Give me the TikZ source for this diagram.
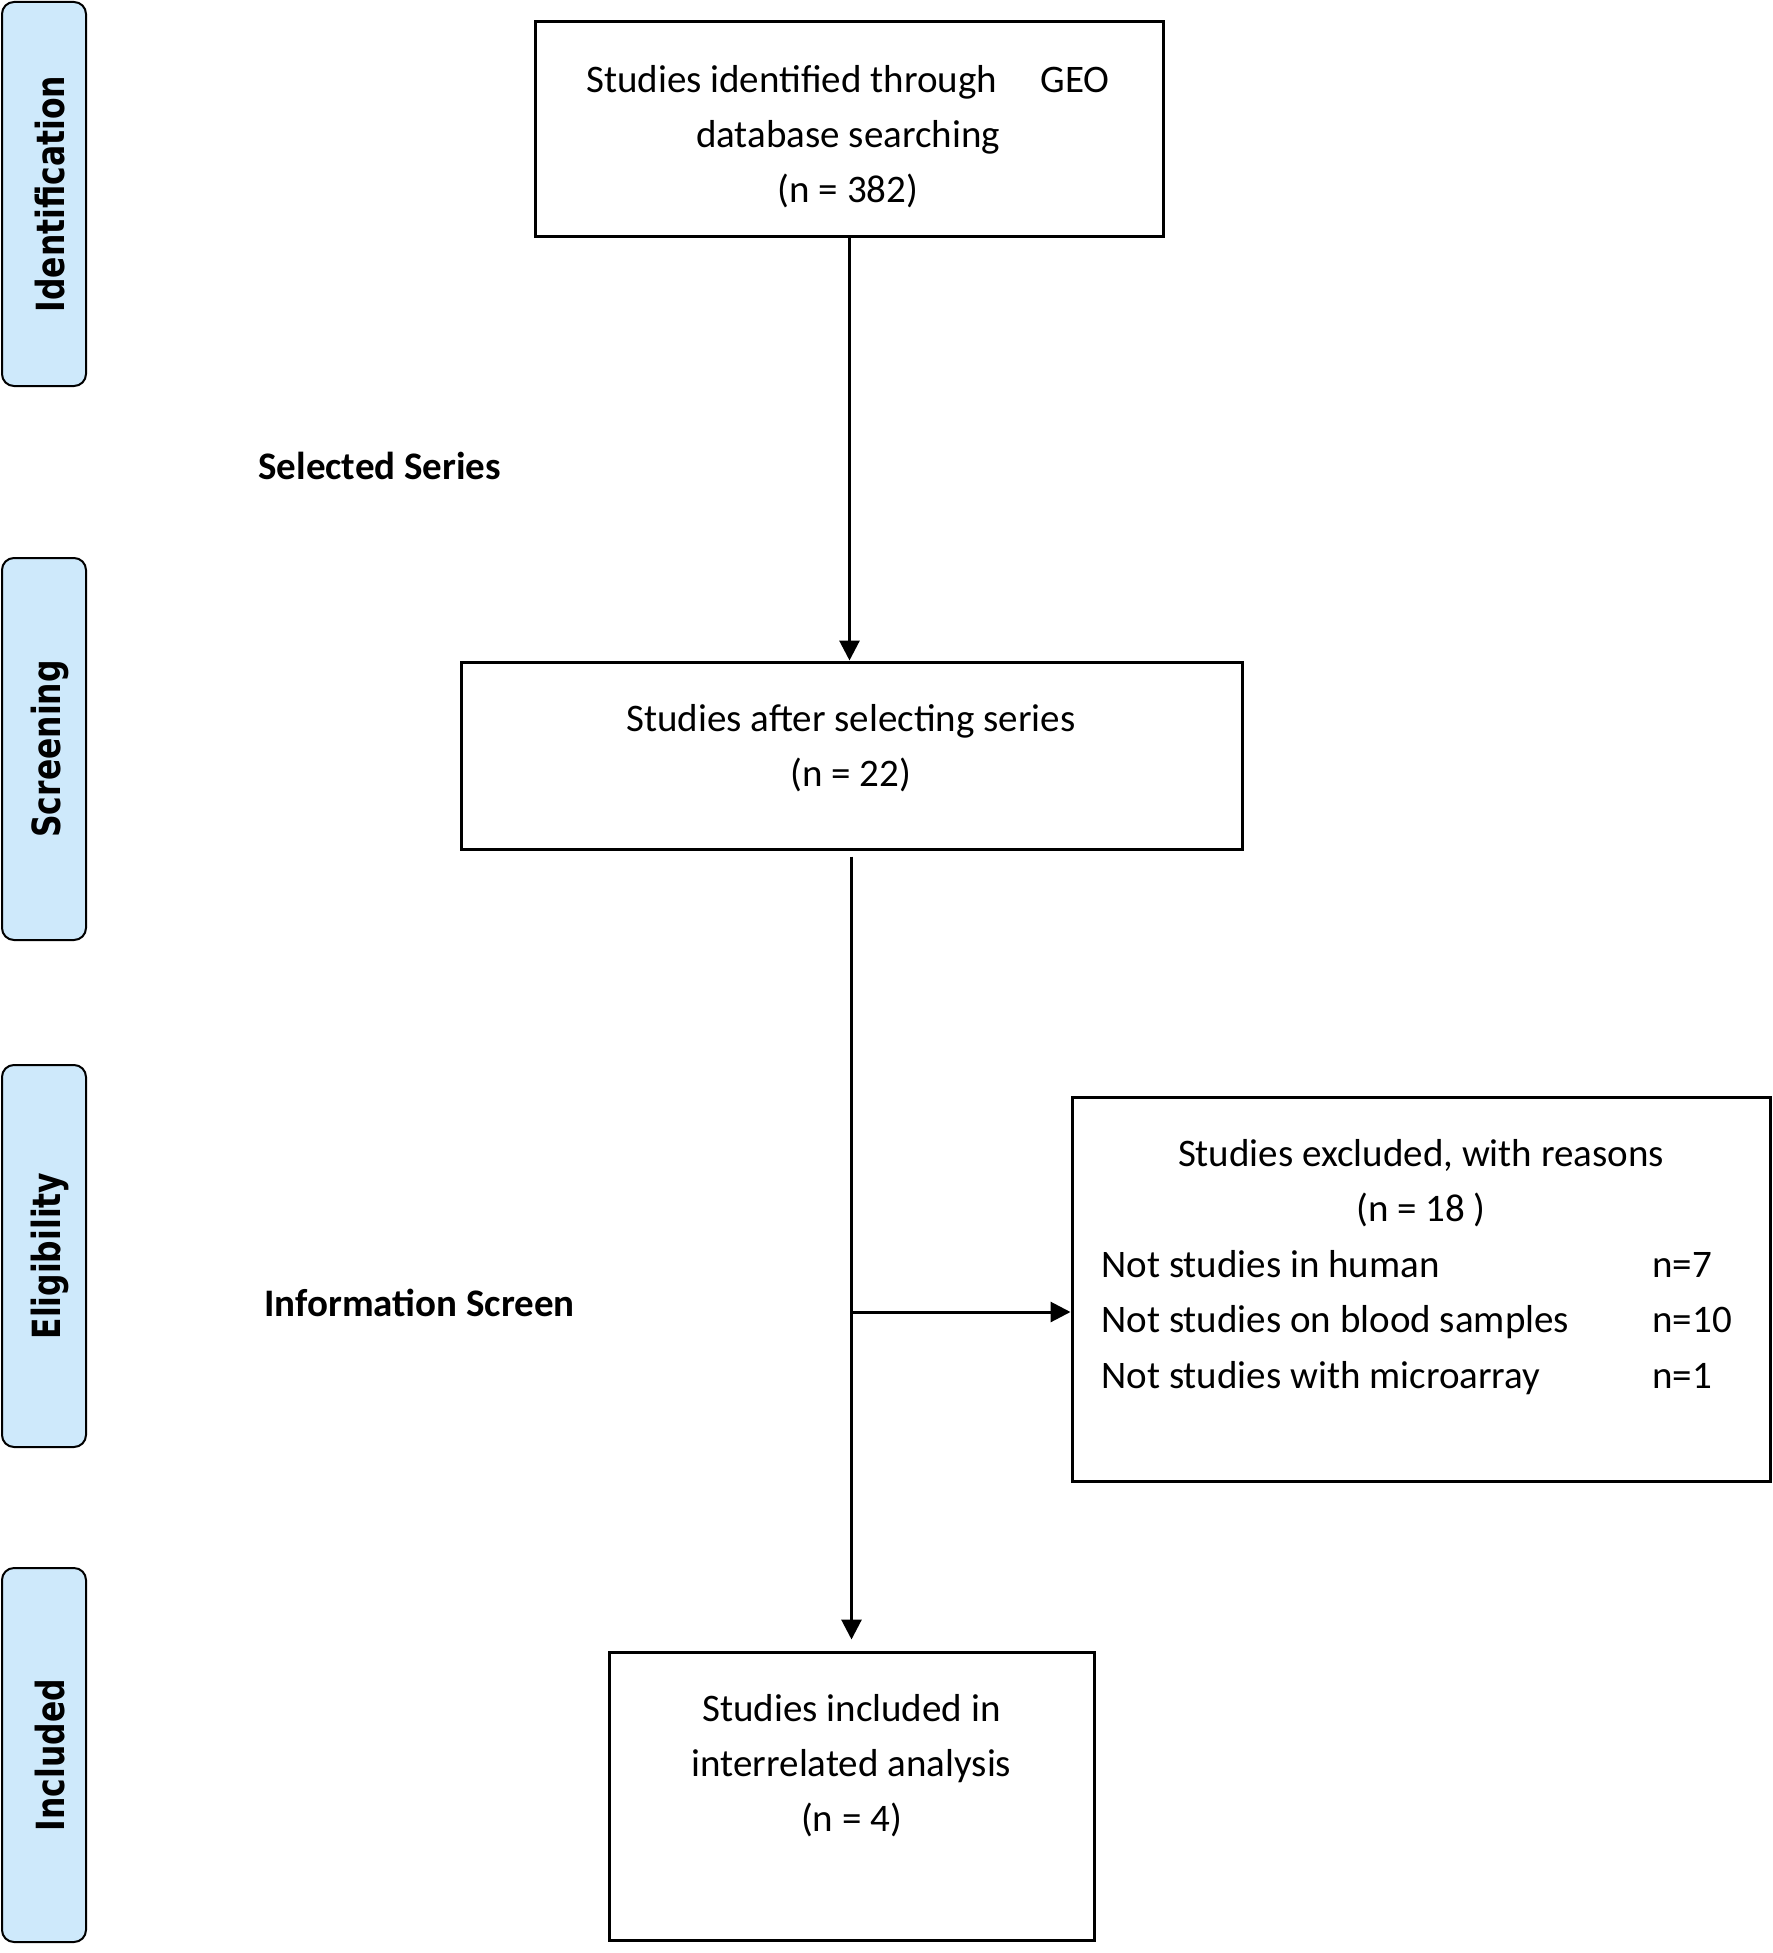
\documentclass[tikz,border=0pt]{standalone}
\usepackage{fontspec}
\setmainfont{Carlito}
\newfontfamily\sidefont[FakeStretch=0.81]{DejaVu Sans}
\usetikzlibrary{arrows.meta,calc}
\definecolor{sideblue}{RGB}{206,233,251}
\begin{document}
\begin{tikzpicture}[x=0.5pt,y=-0.5pt,
  flowbox/.style={draw, line width=1.5pt, inner sep=0pt},
  txt/.style={align=center, inner sep=0pt, font=\fontsize{19.5}{27.5}\selectfont},
  ltxt/.style={anchor=base west, inner sep=0pt, font=\fontsize{19.5}{27.5}\selectfont},
  lbl/.style={anchor=west, inner sep=0pt, font=\fontsize{19.5}{27.5}\selectfont\bfseries},
  sidebox/.style={draw, line width=1pt, rounded corners=6pt, fill=sideblue,
    minimum width=42pt, inner sep=0pt},
  sidelbl/.style={rotate=90, inner sep=0pt, font=\sidefont\bfseries\fontsize{19.4}{23}\selectfont},
  arr/.style={line width=1.5pt, -{Triangle[length=10pt,width=10pt]}}]
\useasboundingbox (0,0) rectangle (1772,1953);

% side phase boxes
\node[sidebox, minimum height=192pt] (sid) at (44,194) {};
\node[sidebox, minimum height=191pt] (sscr) at (44,749) {};
\node[sidebox, minimum height=191pt] (sel) at (44,1256) {};
\node[sidebox, minimum height=187pt] (sinc) at (44,1755) {};
\node[sidelbl] (lid) at (50,194) {Identification};
\node[sidelbl] (lscr) at (50,749) {Screening};
\node[sidelbl] (lel) at (50,1256) {Eligibility};
\node[sidelbl] (linc) at (50,1755) {Included};

% main boxes
\node[flowbox, minimum width=314pt, minimum height=107.5pt] (b1) at (849.5,129.5) {};
\node[flowbox, minimum width=390.5pt, minimum height=93.5pt] (b2) at (851.5,755.5) {};
\node[flowbox, minimum width=349pt, minimum height=192pt] (b3) at (1421,1289) {};
\node[flowbox, minimum width=242.5pt, minimum height=144pt] (b4) at (851.5,1796) {};

% texts
\node[txt] (t1) at (848,137) {Studies identified through\hspace{0.9em} GEO\\database searching\\(n = 382)};
\node[txt] (t2) at (851,748) {Studies after selecting series\\(n = 22)};
\node[txt] (t3) at (1421,1183) {Studies excluded, with reasons\\(n = 18 )};
\node[ltxt] (r1) at (1101,1277) {Not studies in human};
\node[ltxt] (r2) at (1101,1332) {Not studies on blood samples};
\node[ltxt] (r3) at (1101,1388) {Not studies with microarray};
\node[ltxt] (n1) at (1652,1277) {n=7};
\node[ltxt] (n2) at (1652,1332) {n=10};
\node[ltxt] (n3) at (1652,1388) {n=1};
\node[txt] (t4) at (851.5,1766) {Studies included in\\interrelated analysis\\(n = 4)};

% stage labels
\node[lbl] (lsel) at (258,466) {Selected Series};
\node[lbl] (linf) at (264,1303) {Information Screen};

% connectors
\coordinate (s2) at ($(b2.south)+(0,6)$);
\coordinate (e2) at ($(b4.north)+(0,-11)$);
\coordinate (j) at (851.5,1312);
\draw[arr] (b1.south) -- (b1.south |- b2.north);
\draw[arr] (s2) -- (e2);
\draw[arr] (j) -- (j -| b3.west);
\end{tikzpicture}
\end{document}
